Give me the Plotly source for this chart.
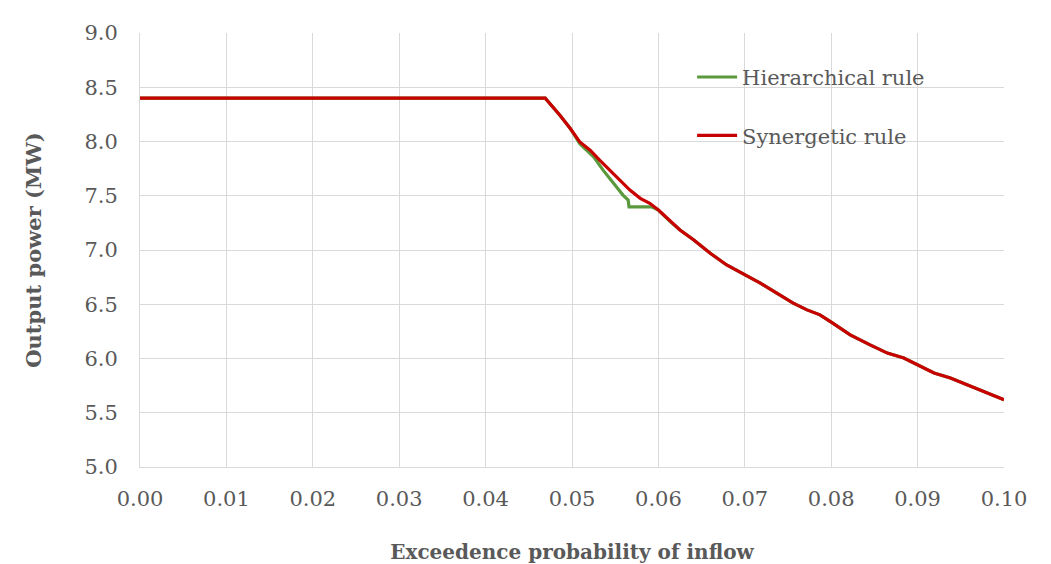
import plotly.graph_objects as go

# Exceedence probability of inflow (x) and output power in MW (y)
syn_p = [0.0, 0.0469, 0.0486, 0.0498, 0.0509, 0.0521, 0.0532, 0.0544, 0.0556, 0.0567,
         0.0579, 0.0590, 0.0600, 0.0614, 0.0625, 0.0641, 0.0660, 0.0679, 0.0700,
         0.0718, 0.0737, 0.0756, 0.0772, 0.0787, 0.0800, 0.0822, 0.0845, 0.0865,
         0.0884, 0.0900, 0.0919, 0.0938, 0.0957, 0.0977, 0.1000]
syn_v = [8.40, 8.40, 8.242, 8.12, 7.996, 7.92, 7.828, 7.736, 7.644, 7.552,
         7.476, 7.43, 7.368, 7.26, 7.184, 7.092, 6.97, 6.862, 6.77,
         6.694, 6.602, 6.51, 6.448, 6.402, 6.335, 6.218, 6.126, 6.05,
         6.004, 5.942, 5.866, 5.82, 5.758, 5.696, 5.62]

hier_p = [0.0, 0.0469, 0.0486, 0.0498, 0.0509, 0.0525, 0.0536, 0.0548, 0.0559, 0.0565,
          0.0566, 0.0592, 0.0600, 0.0614, 0.0625, 0.0641, 0.0660, 0.0679, 0.0700,
          0.0718, 0.0737, 0.0756, 0.0772, 0.0787, 0.0800, 0.0822, 0.0845, 0.0865,
          0.0884, 0.0900, 0.0919, 0.0938, 0.0957, 0.0977, 0.1000]
hier_v = [8.40, 8.40, 8.242, 8.12, 7.98, 7.858, 7.736, 7.613, 7.506, 7.46,
          7.398, 7.398, 7.368, 7.26, 7.184, 7.092, 6.97, 6.862, 6.77,
          6.694, 6.602, 6.51, 6.448, 6.402, 6.335, 6.218, 6.126, 6.05,
          6.004, 5.942, 5.866, 5.82, 5.758, 5.696, 5.62]

names = ["Hierarchical rule", "Synergetic rule"]
colors = ["#5b9a3c", "#c80000"]

FONT = "DejaVu Serif"
TXT = "#595959"
GRID = "#d9d9d9"

fig = go.Figure()
fig.add_trace(go.Scatter(x=hier_p, y=hier_v, mode="lines", name=names[0],
                         legendgroup="a", line=dict(color=colors[0], width=3.2)))
fig.add_trace(go.Scatter(x=syn_p, y=syn_v, mode="lines", name=names[1],
                         legendgroup="b", line=dict(color=colors[1], width=3.2)))

# white box behind legend covering gridlines
fig.add_shape(type="rect", xref="paper", yref="paper", x0=0.593, x1=1.0, y0=0.695, y1=1.0,
              fillcolor="white", line=dict(width=0), layer="between")

fig.update_layout(
    width=1051, height=564,
    margin=dict(l=140, r=47, t=33, b=97),
    paper_bgcolor="white", plot_bgcolor="white",
    font=dict(family=FONT, color=TXT, size=21),
    showlegend=True,
    legend=dict(x=0.639, y=0.945, xanchor="left", yanchor="top",
                bgcolor="rgba(0,0,0,0)", traceorder="grouped", tracegroupgap=28,
                font=dict(family=FONT, size=21, color=TXT), itemwidth=40),
    xaxis=dict(range=[0, 0.1], dtick=0.01, tick0=0, tickformat=".2f",
               showgrid=True, gridcolor=GRID, gridwidth=1, automargin=False,
               showline=True, linecolor=GRID, linewidth=1, mirror=False,
               zeroline=False, ticks="", ticklabelstandoff=13,
               tickfont=dict(family=FONT, size=21, color=TXT),
               title=dict(text="<b>Exceedence probability of inflow</b>",
                          font=dict(family=FONT, size=20, color=TXT), standoff=34)),
    yaxis=dict(range=[5, 9], dtick=0.5, tick0=5, tickformat=".1f",
               showgrid=True, gridcolor=GRID, gridwidth=1, automargin=False,
               showline=True, linecolor=GRID, linewidth=1,
               zeroline=False, ticks="", ticklabelstandoff=17,
               tickfont=dict(family=FONT, size=21, color=TXT),
               title=dict(text="<b>Output power (MW)</b>",
                          font=dict(family=FONT, size=21, color=TXT), standoff=37)),
)

fig.write_html("out.html")
